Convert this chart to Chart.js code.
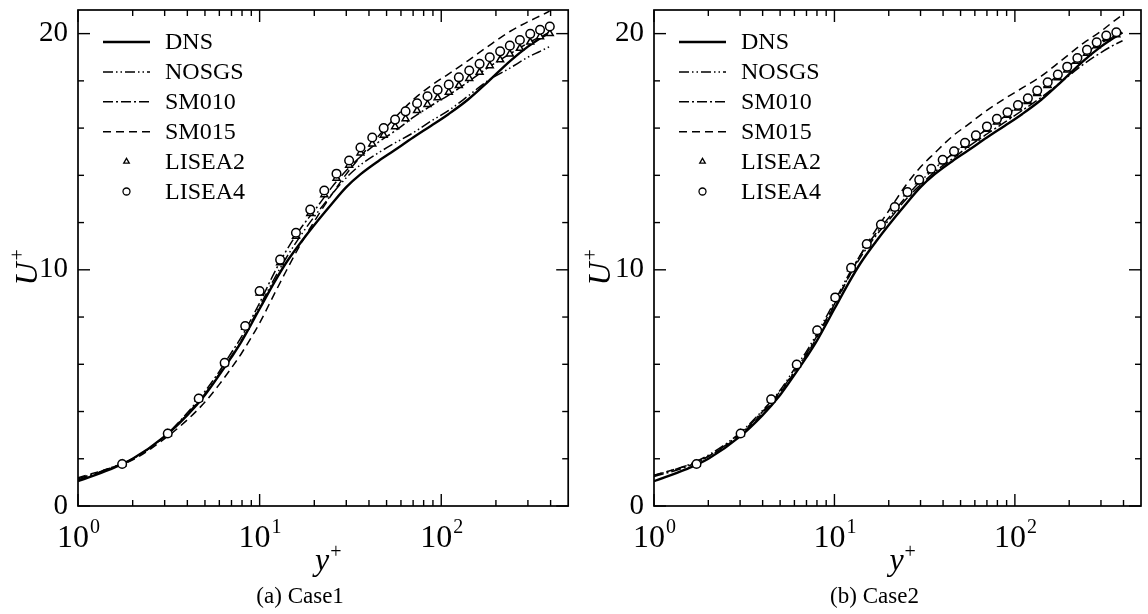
<!DOCTYPE html>
<html>
<head>
<meta charset="utf-8">
<script src="https://cdn.jsdelivr.net/npm/chart.js@4.4.1/dist/chart.umd.min.js"></script>
<style>
  html, body { margin: 0; padding: 0; background: #fff; }
  #wrap { position: relative; width: 1148px; height: 614px; }
  canvas { position: absolute; top: 0; }
  #case1 { left: 0; }
  #case2 { left: 574px; }
</style>
</head>
<body>
<div id="wrap">
  <canvas id="case1" width="574" height="614"></canvas>
  <canvas id="case2" width="574" height="614"></canvas>
</div>
<script>
// y+ positions used for the line curves
const lineY = [1, 1.5, 2, 3, 4, 5, 6, 7, 8, 10, 12, 14, 17, 20, 25, 30, 36, 45, 55, 70, 88, 110, 140, 180, 240, 300, 350, 395];

// DNS (same in both cases)
const dnsU = [1.05, 1.55, 2.0, 2.95, 3.85, 4.7, 5.55, 6.3, 7.0, 8.35, 9.45, 10.3, 11.2, 11.9, 12.8, 13.5, 14.05, 14.6, 15.05, 15.6, 16.1, 16.6, 17.2, 17.95, 18.85, 19.45, 19.8, 20.05];

// Case1 lines
const nosgsU1 = [1.15, 1.6, 2.0, 2.95, 3.9, 4.75, 5.6, 6.35, 7.05, 8.45, 9.6, 10.5, 11.5, 12.25, 13.2, 13.9, 14.45, 14.95, 15.35, 15.8, 16.3, 16.75, 17.35, 18.0, 18.55, 19.0, 19.25, 19.45];
const sm010U1 = [1.1, 1.6, 2.0, 2.95, 3.95, 4.85, 5.7, 6.5, 7.2, 8.6, 9.85, 10.8, 11.8, 12.5, 13.5, 14.2, 14.8, 15.4, 15.85, 16.45, 16.95, 17.4, 17.95, 18.55, 19.15, 19.6, 19.85, 20.0];
const sm015U1 = [1.2, 1.6, 1.95, 2.85, 3.65, 4.4, 5.15, 5.85, 6.5, 7.75, 8.95, 9.95, 11.15, 12.05, 13.2, 14.05, 14.8, 15.65, 16.4, 17.2, 17.8, 18.3, 18.85, 19.45, 20.1, 20.5, 20.75, 20.95];

// Case1 markers
const liseaY1 = [1.75, 3.12, 4.62, 6.42, 8.33, 10, 12.97, 15.85, 19.0, 22.7, 26.5, 31.1, 35.9, 41.7, 48.2, 55.7, 63.6, 73.6, 84, 95.5, 110, 125, 142.6, 162.6, 185, 211, 238.6, 271, 309, 350, 396];
const lisea4U1 = [1.78, 3.07, 4.55, 6.06, 7.62, 9.10, 10.43, 11.57, 12.55, 13.36, 14.07, 14.63, 15.18, 15.6, 16.0, 16.36, 16.71, 17.05, 17.35, 17.62, 17.84, 18.15, 18.44, 18.72, 19.0, 19.25, 19.49, 19.73, 19.99, 20.16, 20.3];
const lisea2U1 = [1.78, 3.06, 4.53, 6.03, 7.57, 9.02, 10.3, 11.42, 12.38, 13.18, 13.88, 14.43, 14.95, 15.33, 15.7, 16.06, 16.4, 16.74, 17.0, 17.28, 17.52, 17.8, 18.1, 18.36, 18.64, 18.89, 19.14, 19.38, 19.64, 19.87, 20.0];

// Case2 lines
const nosgsU2 = [1.3, 1.7, 2.15, 3.1, 4.05, 4.9, 5.8, 6.55, 7.3, 8.65, 9.8, 10.65, 11.55, 12.2, 13.1, 13.75, 14.3, 14.9, 15.4, 15.95, 16.5, 17.05, 17.65, 18.35, 19.1, 19.6, 19.85, 20.0];
const sm010U2 = [1.25, 1.65, 2.1, 3.05, 4.0, 4.85, 5.7, 6.45, 7.2, 8.55, 9.7, 10.55, 11.45, 12.1, 13.0, 13.6, 14.15, 14.7, 15.2, 15.75, 16.25, 16.75, 17.3, 17.95, 18.7, 19.2, 19.5, 19.7];
const sm015U2 = [1.3, 1.7, 2.1, 3.0, 3.95, 4.8, 5.65, 6.4, 7.15, 8.5, 9.7, 10.65, 11.7, 12.5, 13.6, 14.35, 14.95, 15.65, 16.15, 16.75, 17.25, 17.7, 18.2, 18.85, 19.6, 20.1, 20.5, 20.8];

// Case2 markers
const liseaY2 = [1.72, 3.02, 4.46, 6.18, 8.02, 10.1, 12.37, 15.1, 18.1, 21.6, 25.4, 29.5, 34.4, 39.8, 46, 52.9, 60.8, 70, 79.5, 91, 104, 118, 133, 152, 173, 195, 222, 251, 284, 321, 365];
const lisea4U2 = [1.78, 3.07, 4.52, 5.99, 7.44, 8.83, 10.08, 11.09, 11.92, 12.66, 13.29, 13.81, 14.28, 14.66, 15.02, 15.38, 15.69, 16.07, 16.39, 16.67, 16.98, 17.26, 17.59, 17.94, 18.27, 18.6, 18.97, 19.31, 19.63, 19.92, 20.06];
const lisea2U2 = [1.77, 3.06, 4.5, 5.97, 7.42, 8.8, 10.05, 11.05, 11.87, 12.6, 13.22, 13.73, 14.2, 14.57, 14.92, 15.27, 15.58, 15.95, 16.26, 16.54, 16.85, 17.13, 17.46, 17.8, 18.13, 18.46, 18.83, 19.17, 19.49, 19.79, 19.95];

// axes
const yMajorTicks = [0, 10, 20];
const yMinorTicks = [2, 4, 6, 8, 12, 14, 16, 18];
const xMajorTicks = [1, 10, 100];
const xExponents = ["0", "1", "2"];
const xMinorTicks = [2, 3, 4, 5, 6, 7, 8, 9, 20, 30, 40, 50, 60, 70, 80, 90, 200, 300, 400];

const legendNames = ["DNS", "NOSGS", "SM010", "SM015", "LISEA2", "LISEA4"];

const SERIF = '"Liberation Serif", "Times New Roman", "DejaVu Serif", serif';

const pts = (xs, ys) => xs.map((v, i) => ({ x: v, y: ys[i] }));

const lineStyles = {
  DNS: { width: 2.4, dash: [] },
  NOSGS: { width: 1.5, dash: [10, 3, 1.5, 3, 1.5, 3] },
  SM010: { width: 1.5, dash: [10, 3, 2, 3] },
  SM015: { width: 1.5, dash: [8, 5] }
};

function lineSet(name, ys) {
  return {
    label: name,
    data: pts(lineY, ys),
    showLine: true,
    borderColor: "#000",
    borderWidth: lineStyles[name].width,
    borderDash: lineStyles[name].dash,
    pointRadius: 0,
    cubicInterpolationMode: "monotone",
    order: 2
  };
}

function markerSet(name, xs, ys, style, r, order) {
  return {
    label: name,
    data: pts(xs, ys),
    showLine: false,
    pointStyle: style,
    pointRadius: r,
    pointBorderWidth: 1.5,
    pointBorderColor: "#000",
    pointBackgroundColor: "#fff",
    order: order
  };
}

function drawLine(ctx, x1, y1, x2, y2) {
  ctx.beginPath();
  ctx.moveTo(x1, y1);
  ctx.lineTo(x2, y2);
  ctx.stroke();
}

// frame, inward ticks, labels, legend, caption
const decorPlugin = {
  id: "decor",
  afterDatasetsDraw(chart, args, opts) {
    const { ctx, chartArea: a, scales: { x, y } } = chart;
    ctx.save();
    ctx.strokeStyle = "#000";
    ctx.fillStyle = "#000";
    ctx.setLineDash([]);

    ctx.lineWidth = 1.7;
    ctx.strokeRect(a.left, a.top, a.right - a.left, a.bottom - a.top);

    ctx.lineWidth = 1.4;
    yMajorTicks.concat(yMinorTicks).forEach(v => {
      const py = y.getPixelForValue(v);
      const len = yMajorTicks.includes(v) ? 12 : 6;
      drawLine(ctx, a.left, py, a.left + len, py);
      drawLine(ctx, a.right, py, a.right - len, py);
    });
    xMajorTicks.concat(xMinorTicks).forEach(v => {
      const px = x.getPixelForValue(v);
      const len = xMajorTicks.includes(v) ? 12 : 6;
      drawLine(ctx, px, a.bottom, px, a.bottom - len);
      drawLine(ctx, px, a.top, px, a.top + len);
    });

    // y tick labels
    ctx.font = `29px ${SERIF}`;
    ctx.textAlign = "right";
    ctx.textBaseline = "middle";
    yMajorTicks.forEach(v => {
      ctx.fillText(String(v), a.left - 10, y.getPixelForValue(v));
    });

    // x tick labels 10^n
    ctx.textAlign = "left";
    ctx.textBaseline = "alphabetic";
    xMajorTicks.forEach((v, i) => {
      const px = x.getPixelForValue(v);
      ctx.font = `32px ${SERIF}`;
      const wb = ctx.measureText("10").width;
      ctx.font = `20px ${SERIF}`;
      const ws = ctx.measureText(xExponents[i]).width;
      const start = px - (wb + ws) / 2;
      ctx.font = `32px ${SERIF}`;
      ctx.fillText("10", start, a.bottom + 41);
      ctx.font = `20px ${SERIF}`;
      ctx.fillText(xExponents[i], start + wb + 1, a.bottom + 27);
    });

    // x title y+
    const cx = (a.left + a.right) / 2 + 3;
    ctx.font = `italic 32px ${SERIF}`;
    const wy = ctx.measureText("y").width;
    ctx.fillText("y", cx - wy / 2 - 4, a.bottom + 64);
    ctx.font = `20px ${SERIF}`;
    ctx.fillText("+", cx + wy / 2 - 3, a.bottom + 52);

    // y title U+
    ctx.save();
    ctx.translate(opts.yTitleX, (a.top + a.bottom) / 2 + 12);
    ctx.rotate(-Math.PI / 2);
    ctx.font = `italic 32px ${SERIF}`;
    const wu = ctx.measureText("U").width;
    ctx.fillText("U", -wu / 2 - 4, 0);
    ctx.font = `20px ${SERIF}`;
    ctx.fillText("+", wu / 2 - 2, -13);
    ctx.restore();

    // caption
    ctx.font = `23px ${SERIF}`;
    ctx.textAlign = "center";
    ctx.fillText(opts.caption, cx - 26, 603);

    // legend
    const lx0 = a.left + 25, lx1 = a.left + 72, tx = a.left + 87;
    legendNames.forEach((name, i) => {
      const ly = 42 + i * 29.9;
      const ds = chart.data.datasets.find(d => d.label === name);
      ctx.setLineDash([]);
      if (ds.showLine) {
        ctx.lineWidth = ds.borderWidth;
        ctx.setLineDash(ds.borderDash);
        drawLine(ctx, lx0, ly, lx1, ly);
        ctx.setLineDash([]);
      } else {
        ctx.lineWidth = 1.3;
        ctx.fillStyle = "#fff";
        Chart.helpers.drawPoint(ctx, {
          pointStyle: ds.pointStyle,
          radius: ds.pointRadius - 0.8,
          rotation: 0,
          borderWidth: 1.3
        }, (lx0 + lx1) / 2, ly);
        ctx.fillStyle = "#000";
      }
      ctx.font = `24px ${SERIF}`;
      ctx.textAlign = "left";
      ctx.textBaseline = "middle";
      ctx.fillText(name, tx, ly + 1);
    });

    ctx.restore();
  }
};

function makeChart(id, lines, markX, u2, u4, caption, padLeft, padRight, yTitleX) {
  const datasets = [
    markerSet("LISEA4", markX, u4, "circle", 4.3, 0),
    markerSet("LISEA2", markX, u2, "triangle", 4, 1),
    lineSet("DNS", dnsU),
    lineSet("NOSGS", lines.nosgs),
    lineSet("SM010", lines.sm010),
    lineSet("SM015", lines.sm015)
  ];
  return new Chart(document.getElementById(id), {
    type: "scatter",
    data: { datasets },
    options: {
      responsive: false,
      animation: false,
      events: [],
      layout: { padding: { left: padLeft, right: padRight, top: 10, bottom: 108 } },
      plugins: {
        legend: { display: false },
        tooltip: { enabled: false },
        decor: { caption, yTitleX }
      },
      scales: {
        x: { type: "logarithmic", min: 1, max: 500, display: false },
        y: { type: "linear", min: 0, max: 21, display: false }
      }
    },
    plugins: [decorPlugin]
  });
}

makeChart("case1", { nosgs: nosgsU1, sm010: sm010U1, sm015: sm015U1 },
  liseaY1, lisea2U1, lisea4U1, "(a) Case1", 78, 4.5, 37);
makeChart("case2", { nosgs: nosgsU2, sm010: sm010U2, sm015: sm015U2 },
  liseaY2, lisea2U2, lisea4U2, "(b) Case2", 80, 7, 36);
</script>
</body>
</html>
